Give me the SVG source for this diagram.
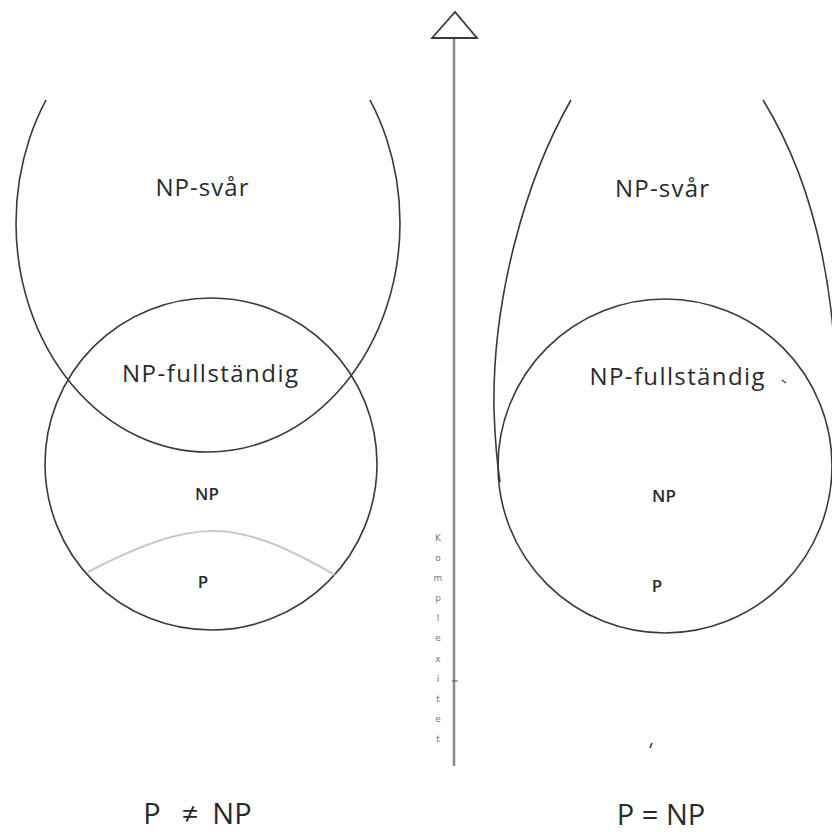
<svg xmlns="http://www.w3.org/2000/svg" width="832" height="833" viewBox="0 0 832 833">
<style>
.ln{fill:none;stroke:#3a3a3a;stroke-width:1.6}
.lt{fill:none;stroke:#c8c8c8;stroke-width:2}
.ax{fill:none;stroke:#8a8a8a;stroke-width:2.5}
.t{font-family:"Open Sans","Noto Sans",sans-serif;fill:#2a2a2a;text-anchor:middle}
.big{font-size:24px}
.sm{font-size:17px;font-weight:600}
.eq{font-size:29px}
.k{font-family:"DejaVu Sans",sans-serif;font-size:9px;fill:#777;text-anchor:middle}
</style>
<rect width="832" height="833" fill="#fff"/>
<defs>
<clipPath id="top"><rect x="0" y="100" width="832" height="733"/></clipPath>
</defs>
<g id="axis">
<line class="ax" x1="454" y1="38" x2="454" y2="766"/>
<polygon points="455,12 432,38 477,38" fill="#fff" stroke="#3a3a3a" stroke-width="1.8"/>
<line x1="452" y1="681" x2="458" y2="681" stroke="#555" stroke-width="1"/>
<text class="k"><tspan x="438" y="541">K</tspan><tspan x="438" y="561">o</tspan><tspan x="438" y="581">m</tspan><tspan x="438" y="601">p</tspan><tspan x="438" y="621">l</tspan><tspan x="438" y="641">e</tspan><tspan x="438" y="662">x</tspan><tspan x="438" y="682">i</tspan><tspan x="438" y="702">t</tspan><tspan x="438" y="722">e</tspan><tspan x="438" y="742">t</tspan></text>
</g>
<g id="left-np-hard">
<ellipse class="ln" cx="208" cy="223" rx="192" ry="229" clip-path="url(#top)"/>
<text class="t big" x="202" y="196" textLength="93" lengthAdjust="spacing">NP-svår</text>
</g>
<g id="left-np">
<circle class="ln" cx="211" cy="464" r="166"/>
<text class="t big" x="210" y="382" textLength="176" lengthAdjust="spacing">NP-fullständig</text>
<text class="t sm" x="207" y="500">NP</text>
</g>
<g id="left-p">
<path class="lt" d="M88,572 C140,545 180,530 216,531 C255,532 295,552 335,575"/>
<text class="t sm" x="203" y="588">P</text>
</g>
<g id="right-np-hard">
<path class="ln" d="M571,100 C525,180 492,300 494,410 C495,440 497,462 500,482"/>
<path class="ln" d="M763,100 C800,160 826,240 834,340"/>
<text class="t big" x="662" y="197" textLength="94" lengthAdjust="spacing">NP-svår</text>
</g>
<g id="right-np">
<circle class="ln" cx="665" cy="466" r="167"/>
<line x1="782" y1="380" x2="786" y2="383" stroke="#3a3a3a" stroke-width="1.2"/>
<text class="t big" x="677" y="385" textLength="175" lengthAdjust="spacing">NP-fullständig</text>
<text class="t sm" x="664" y="502">NP</text>
<text class="t sm" x="657" y="592">P</text>
</g>
<g id="labels">
<path d="M652,743 L650,748" stroke="#333" stroke-width="1.5"/>
<text class="t eq" x="152" y="824">P</text>
<text class="t eq" x="190" y="824">≠</text>
<text class="t eq" x="232" y="824">NP</text>
<text class="t eq" x="661" y="825">P = NP</text>
</g>
</svg>
